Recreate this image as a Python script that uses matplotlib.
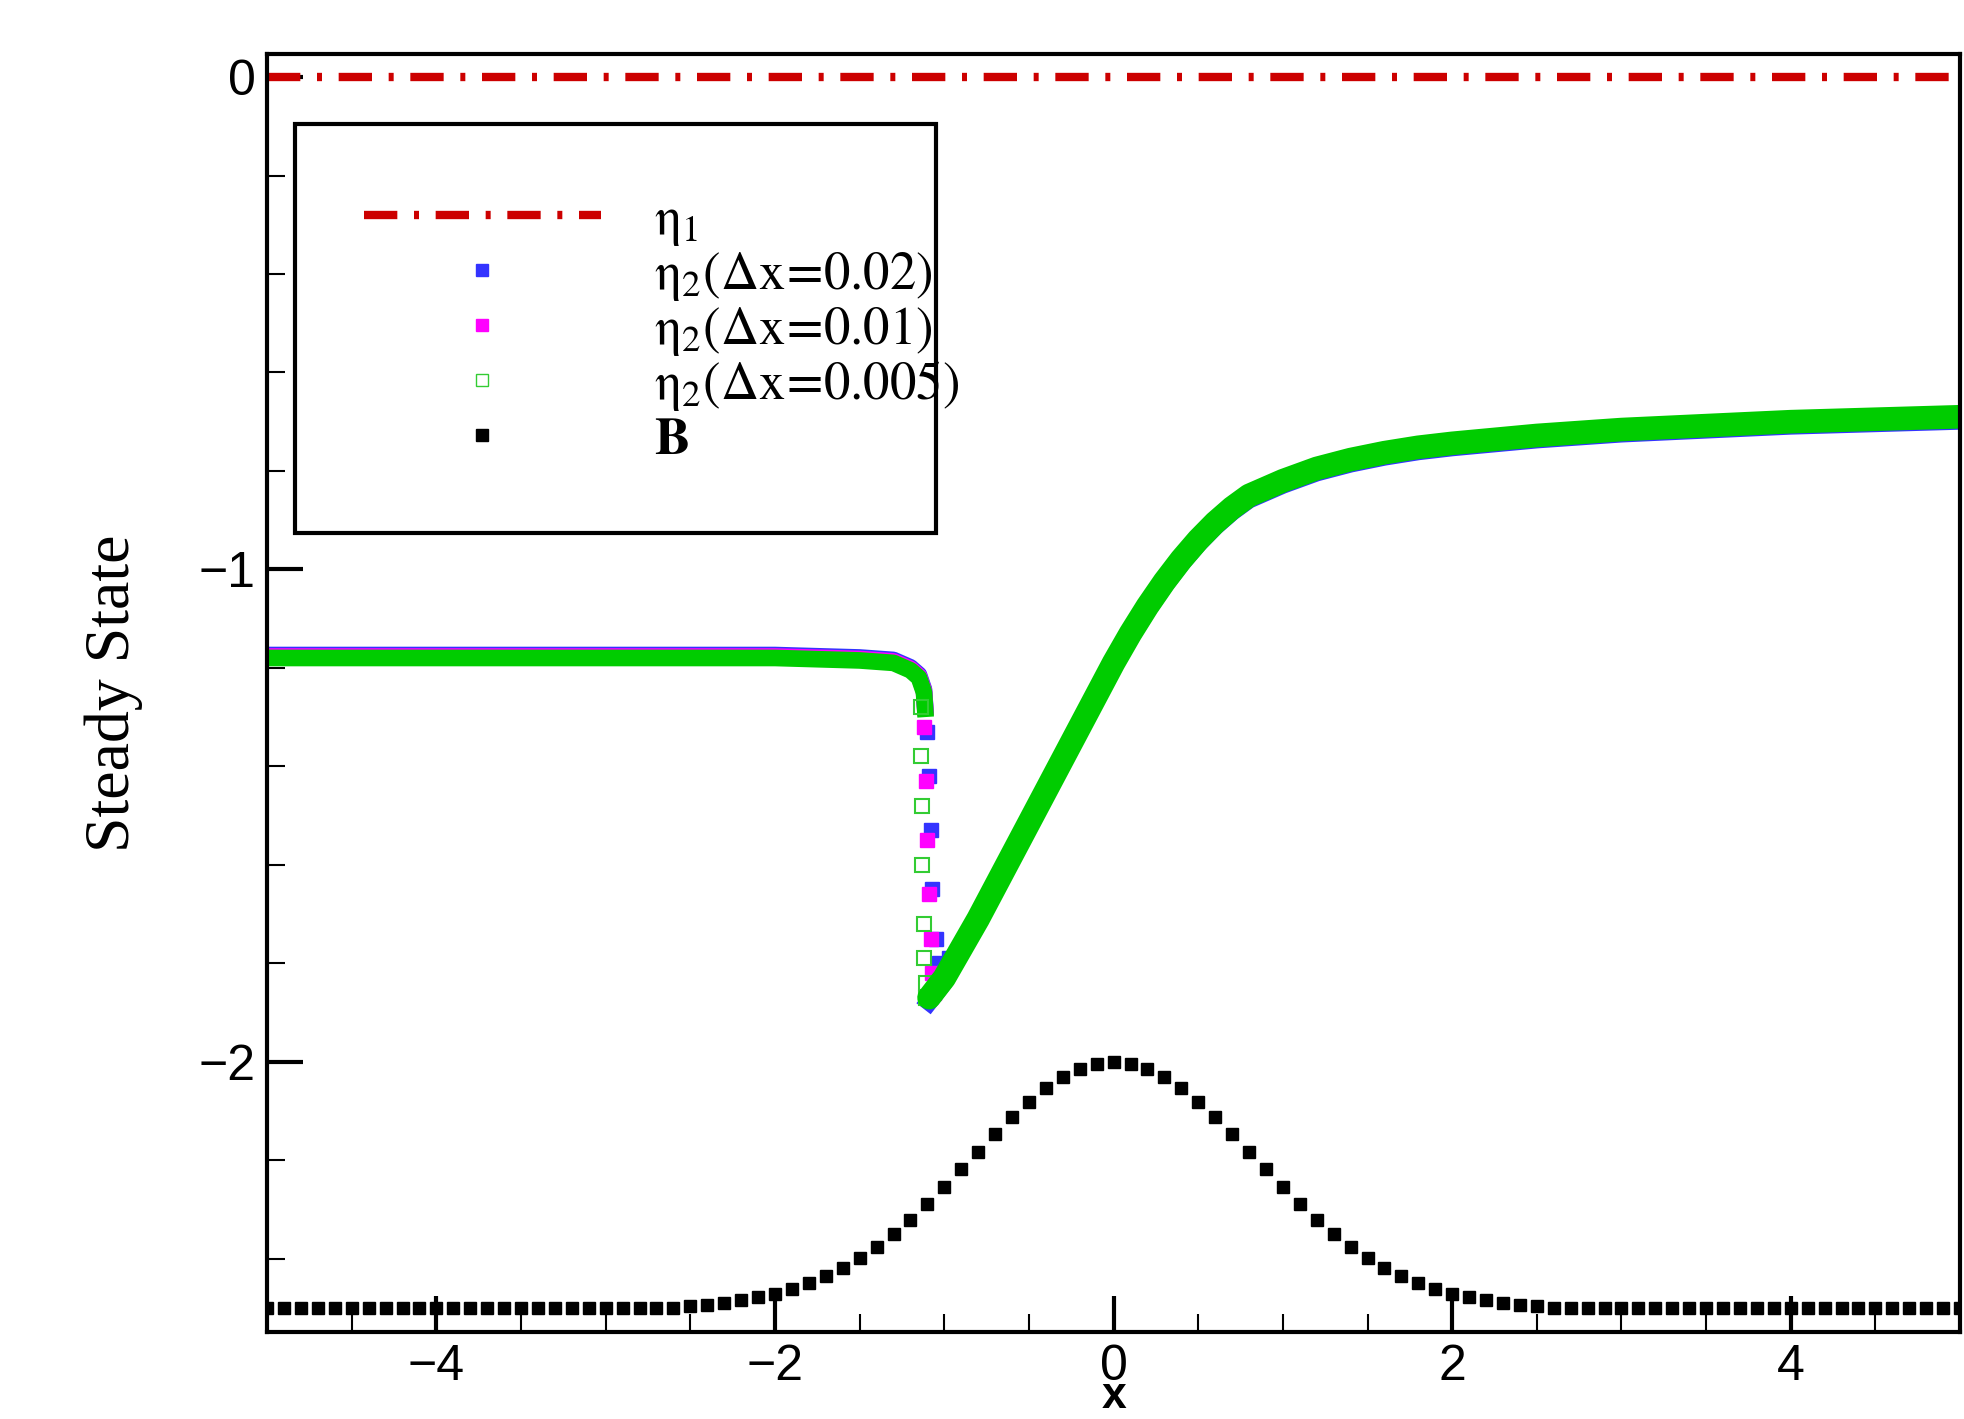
import matplotlib.pyplot as plt
from matplotlib.lines import Line2D

plt.rcParams['mathtext.fontset'] = 'stix'

# eta_1 (flat at zero)
eta1_x = [-5, 5]
eta1_y = [0, 0]

# eta_2 smooth parts
eta2_x = [-5, -4, -3, -2, -1.5, -1.3, -1.2, -1.15, -1.12, -1.11]
eta2_y = [-1.18, -1.18, -1.18, -1.18, -1.185, -1.19, -1.205, -1.22, -1.25, -1.30]
rise_x = [-1.09, -1.0, -0.9, -0.8, -0.7, -0.6, -0.5, -0.4, -0.3, -0.2, -0.1, 0.0, 0.1, 0.2,
          0.3, 0.4, 0.5, 0.6, 0.7, 0.8, 0.9, 1.0, 1.2, 1.4, 1.6, 1.8, 2.0, 2.5, 3.0, 4.0, 5.0]
rise_y = [-1.87, -1.83, -1.77, -1.71, -1.645, -1.58, -1.515, -1.45, -1.385, -1.32, -1.255,
          -1.19, -1.13, -1.075, -1.025, -0.98, -0.94, -0.905, -0.875, -0.85, -0.835, -0.82,
          -0.795, -0.777, -0.763, -0.752, -0.744, -0.728, -0.716, -0.70, -0.69]

# dip markers for each grid
dip02_x = [-1.10, -1.09, -1.08, -1.07, -1.05, -1.03, -1.00, -0.97]
dip02_y = [-1.33, -1.42, -1.53, -1.65, -1.75, -1.80, -1.81, -1.79]
dip01_x = [-1.12, -1.11, -1.10, -1.09, -1.08, -1.07, -1.06]
dip01_y = [-1.32, -1.43, -1.55, -1.66, -1.75, -1.82, -1.86]
dip005_x = [-1.14, -1.14, -1.13, -1.13, -1.12, -1.12, -1.11, -1.11]
dip005_y = [-1.28, -1.38, -1.48, -1.60, -1.72, -1.79, -1.84, -1.87]

# bottom topography B
B_x = [-5.0, -4.9, -4.8, -4.7, -4.6, -4.5, -4.4, -4.3, -4.2, -4.1, -4.0, -3.9, -3.8, -3.7,
       -3.6, -3.5, -3.4, -3.3, -3.2, -3.1, -3.0, -2.9, -2.8, -2.7, -2.6, -2.5, -2.4, -2.3,
       -2.2, -2.1, -2.0, -1.9, -1.8, -1.7, -1.6, -1.5, -1.4, -1.3, -1.2, -1.1, -1.0, -0.9,
       -0.8, -0.7, -0.6, -0.5, -0.4, -0.3, -0.2, -0.1, 0.0, 0.1, 0.2, 0.3, 0.4, 0.5, 0.6,
       0.7, 0.8, 0.9, 1.0, 1.1, 1.2, 1.3, 1.4, 1.5, 1.6, 1.7, 1.8, 1.9, 2.0, 2.1, 2.2, 2.3,
       2.4, 2.5, 2.6, 2.7, 2.8, 2.9, 3.0, 3.1, 3.2, 3.3, 3.4, 3.5, 3.6, 3.7, 3.8, 3.9, 4.0,
       4.1, 4.2, 4.3, 4.4, 4.5, 4.6, 4.7, 4.8, 4.9, 5.0]
B_y = [-2.5] * 25 + [-2.497, -2.494, -2.49, -2.485, -2.478, -2.471, -2.462, -2.45, -2.436,
       -2.419, -2.399, -2.376, -2.35, -2.321, -2.289, -2.255, -2.219, -2.183, -2.147,
       -2.113, -2.082, -2.054, -2.031, -2.014, -2.004, -2.0, -2.004, -2.014, -2.031,
       -2.054, -2.082, -2.113, -2.147, -2.183, -2.219, -2.255, -2.289, -2.321, -2.35,
       -2.376, -2.399, -2.419, -2.436, -2.45, -2.462, -2.471, -2.478, -2.485, -2.49,
       -2.494, -2.497] + [-2.5] * 25

fig = plt.figure(figsize=(19.64, 14.19), dpi=100)
ax = fig.add_axes([0.136, 0.061, 0.862, 0.901])

ax.plot(eta1_x, eta1_y, color='#cc0000', lw=6, dashes=(4, 2, 0.6, 2))

# thick curves standing in for dense markers
ax.plot(eta2_x, [v + 0.006 for v in eta2_y], color='#3333ff', lw=12, solid_capstyle='butt')
ax.plot(eta2_x, [v + 0.003 for v in eta2_y], color='#ff00ff', lw=12, solid_capstyle='butt')
ax.plot(eta2_x, eta2_y, color='#00cc00', lw=12, solid_capstyle='butt')
ax.plot(rise_x, [v - 0.008 for v in rise_y], color='#3333ff', lw=13, solid_joinstyle='round')
ax.plot(dip02_x, dip02_y, 's', color='#3333ff', ms=10, ls='none')
ax.plot(dip01_x, dip01_y, 's', color='#ff00ff', ms=10, ls='none')
ax.plot(dip005_x, dip005_y, 's', mfc='none', mec='#33cc33', mew=1.5, ms=10, ls='none')
ax.plot(rise_x, rise_y, color='#00cc00', lw=17, solid_joinstyle='round', solid_capstyle='round')

ax.plot(B_x, B_y, 's', color='black', ms=8, ls='none')

ax.set_xlim(-5, 5)
ax.set_ylim(-2.55, 0.047)
ax.set_xticks([-4, -2, 0, 2, 4])
ax.set_xticks([x / 2 for x in range(-10, 11)], minor=True)
ax.set_yticks([0, -1, -2])
ax.set_yticks([-i / 5 for i in range(0, 13)], minor=True)
ax.set_xticklabels(['\u22124', '\u22122', '0', '2', '4'], family='Liberation Sans', fontsize=36)
ax.set_yticklabels(['0', '\u22121', '\u22122'], family='Liberation Sans', fontsize=36)
ax.tick_params(which='major', direction='in', length=26, width=3, pad=8)
ax.tick_params(which='minor', direction='in', length=13, width=1.5)
for s in ax.spines.values():
    s.set_linewidth(3)

ax.set_xlabel('x', family='Liberation Sans', fontweight='bold', fontsize=32, labelpad=-10)
ax.set_ylabel('Steady State', family='Liberation Serif', fontsize=46, labelpad=40)

handles = [
    Line2D([], [], color='#cc0000', lw=6, dashes=(4, 2, 0.6, 2)),
    Line2D([], [], marker='s', color='#3333ff', ls='none', ms=9),
    Line2D([], [], marker='s', color='#ff00ff', ls='none', ms=9),
    Line2D([], [], marker='s', mfc='none', mec='#33cc33', ls='none', ms=9),
    Line2D([], [], marker='s', color='black', ls='none', ms=9),
]
labels = [r'$\mathrm{\eta_1}$', r'$\mathrm{\eta_2(\Delta x\!=\!0.02)}$',
          r'$\mathrm{\eta_2(\Delta x\!=\!0.01)}$', r'$\mathrm{\eta_2(\Delta x\!=\!0.005)}$',
          r'$\mathsf{\mathbf{B}}$']
leg = ax.legend(handles, labels, loc='upper left', bbox_to_anchor=(0.0165, 0.618, 0.3785, 0.327),
                mode='expand', fancybox=False, framealpha=1, edgecolor='black',
                fontsize=38, handlelength=4.5, handletextpad=1.0, labelspacing=0.0,
                borderaxespad=0, borderpad=1.3)
leg.get_frame().set_linewidth(3)

fig.savefig('out.png', dpi=100)
